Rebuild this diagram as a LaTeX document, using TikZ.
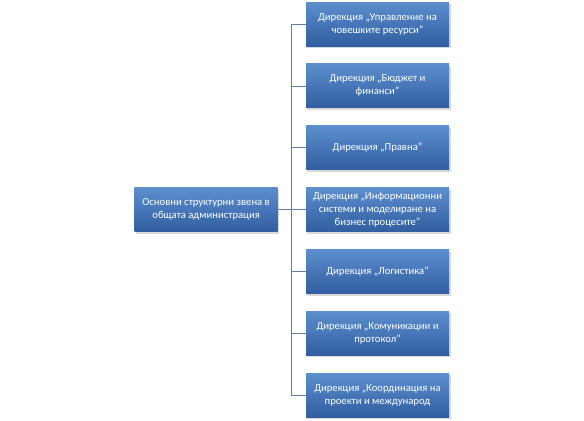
\documentclass[tikz,border=0pt]{standalone}
\usepackage{fontspec}
\setmainfont{Carlito}
\usetikzlibrary{positioning,shadows}
\definecolor{boxtop}{RGB}{92,142,206}
\definecolor{boxbot}{RGB}{48,94,160}
\definecolor{linkcol}{RGB}{96,126,168}
\tikzset{
  unit/.style={rectangle,top color=boxtop,bottom color=boxbot,draw=none,
    minimum width=143bp,minimum height=44bp,align=center,text=white,
    font=\fontsize{10.7}{13}\selectfont,inner sep=2pt,
    drop shadow={opacity=0.3,shadow xshift=1.5pt,shadow yshift=-2pt}},
  link/.style={draw=linkcol,line width=0.8pt},
}

\begin{document}
\begin{tikzpicture}[node distance=17.5bp]
  \useasboundingbox (0,0) rectangle (584bp,-421bp);
  % directorates, top to bottom
  \node[unit] (hr) at (377.5bp,-24bp) {Дирекция „Управление на\\човешките ресурси”};
  \node[unit] (fin) [below=of hr] {Дирекция „Бюджет и\\финанси”};
  \node[unit] (law) [below=of fin] {Дирекция „Правна”};
  \node[unit] (info) [below=of law] {Дирекция „Информационни\\системи и моделиране на\\бизнес процесите”};
  \node[unit] (log) [below=of info] {Дирекция „Логистика”};
  \node[unit] (com) [below=of log] {Дирекция „Комуникации и\\протокол”};
  \node[unit] (coord) [below=of com] {Дирекция „Координация на\\проекти и международ};
  % general administration
  \node[unit] (adm) [left=28bp of info] {Основни структурни звена в\\общата администрация};
  \draw[link] (adm.east) -- ++(14bp,0) |- (hr.west);
  \draw[link] (adm.east) -- ++(14bp,0) |- (fin.west);
  \draw[link] (adm.east) -- ++(14bp,0) |- (law.west);
  \draw[link] (adm.east) -- (info.west);
  \draw[link] (adm.east) -- ++(14bp,0) |- (log.west);
  \draw[link] (adm.east) -- ++(14bp,0) |- (com.west);
  \draw[link] (adm.east) -- ++(14bp,0) |- (coord.west);
\end{tikzpicture}
\end{document}
